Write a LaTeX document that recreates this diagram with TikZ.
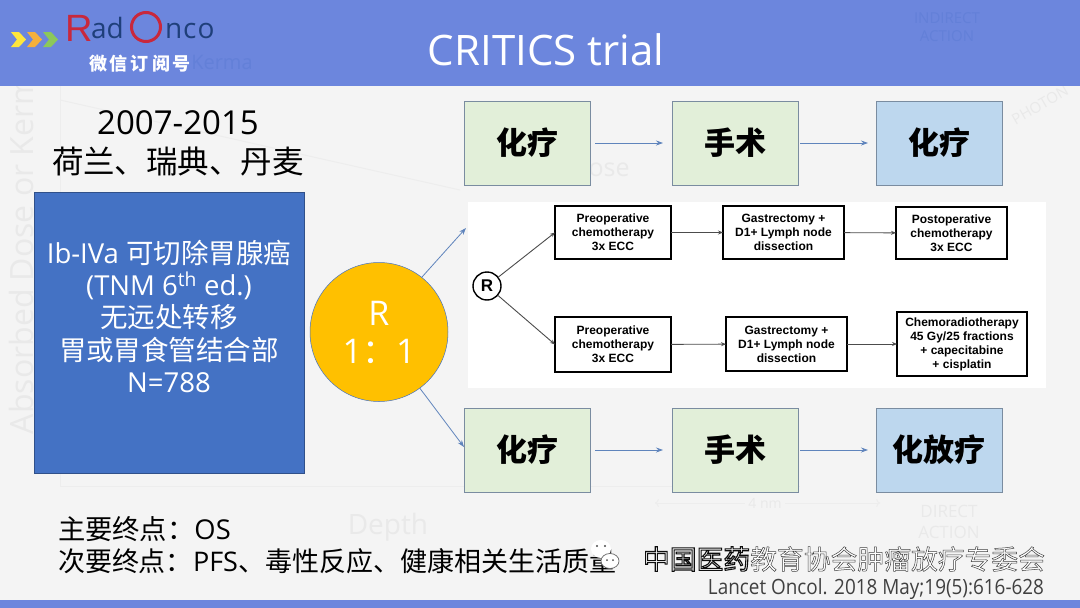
\documentclass[tikz,border=0pt]{standalone}
\usepackage{fontspec}
\setmainfont{Open Sans}
\newfontfamily\cj{Noto Sans CJK SC}
\newfontfamily\arl{Liberation Sans}
\usetikzlibrary{arrows.meta,shapes.geometric}
\newcommand{\fz}[1]{\fontsize{#1}{#1}\selectfont}
\definecolor{hdr}{HTML}{6C86DD}
\definecolor{pagebg}{HTML}{F4F4F4}
\definecolor{ghost}{HTML}{E9E9E9}
\definecolor{ghostline}{HTML}{EDEDED}
\definecolor{ghosthdr}{HTML}{6380D8}
\definecolor{mainblue}{HTML}{4472C4}
\definecolor{grn}{HTML}{E2EFD9}
\definecolor{lblue}{HTML}{BDD7EE}
\definecolor{edgeb}{HTML}{7A8CA0}
\definecolor{arrowb}{HTML}{5F84BC}
\definecolor{navy}{HTML}{1F3F7A}
\definecolor{logored}{HTML}{C8283C}
\definecolor{ampel}{HTML}{FFC000}
\tikzset{
 every node/.style={inner sep=0pt,outer sep=0pt},
 stepgreen/.style={draw=edgeb,line width=1pt,fill=grn,minimum width=126pt,minimum height=84pt,font=\cj\bfseries\fz{31}},
 stepblue/.style={stepgreen,fill=lblue},
 flowbox/.style={draw=black,line width=1.4pt,fill=white,align=center,font=\arl\bfseries\fontsize{12}{14}\selectfont},
 slide arrow/.style={draw=arrowb,line width=.8pt,-{Stealth[length=7pt,width=5pt]}},
 panel arrow/.style={draw=black!70,line width=.9pt,-{Stealth[length=5pt,width=4pt]}},
 ghosttext/.style={text=ghost},
}
\begin{document}
\begin{tikzpicture}[x=1pt,y=-1pt]
\useasboundingbox (0,0) rectangle (1080,608);
\fill[pagebg] (0,0) rectangle (1080,608);
% faint background picture
\draw[ghostline,line width=1pt] (60,86) -- (60,486) -- (800,486);
\draw[ghostline,line width=1pt] (60,100) -- (460,190);
\draw[ghostline,line width=1pt,<->] (655,503) -- (880,503);
\node[ghosttext,rotate=90,font=\fz{32}] (gy) at (22,246) {Absorbed Dose or Kerma};
\node[ghosttext,font=\fz{28}] (gd) at (388,527) {Depth};
\node[ghosttext,font=\fz{25}] (gdose) at (600,168) {Dose};
\node[ghosttext,font=\fz{17},align=center] (gact) at (949,522) {DIRECT\\[4pt]ACTION};
\node[ghosttext,font=\fz{14},fill=pagebg,inner xsep=3pt] (gnm) at (765,503) {4 nm};
\node[ghosttext,rotate=30,font=\fz{15}] (gph) at (1040,105) {PHOTON};
% bars
\fill[hdr] (0,0) rectangle (1080,86);
\fill[hdr] (0,600) rectangle (1080,608);
\node[text=ghosthdr,font=\fz{15},align=center] (gind) at (947,27) {INDIRECT\\[3pt]ACTION};
\node[text=ghosthdr,font=\fz{20}] (gk) at (222,62) {Kerma};
\node[text=white,font=\fz{42}] (title) at (546,50) {CRITICS trial};
% logo
\foreach \xx/\cc in {11/FFE63C,27/F4B03C,43/8CC85A}{
 \definecolor{cc}{HTML}{\cc}
 \fill[cc] (\xx,32) -- (\xx+8,32) -- (\xx+15,39.5) -- (\xx+8,47) -- (\xx,47) -- (\xx+6,39.5) -- cycle;
}
\node[text=logored,font=\arl\fz{38},anchor=base west] (logoR) at (65,41) {R};
\node[text=navy,font=\fz{28},anchor=base west] (logoa) at (91,38) {ad};
\draw[logored,line width=3pt] (146,27) ellipse (14.5pt and 14.5pt);
\node[text=navy,font=\fz{28},anchor=base west] (logon) at (165,38) {n\hspace{1pt}c\hspace{1pt}o};
\node[text=white,font=\cj\bfseries\fz{18}] (logow) at (140,64) {微\hspace{3pt}信\hspace{3pt}订\hspace{3pt}阅\hspace{3pt}号};
% left column
\node[font=\fz{33}] (years) at (178,123) {2007-2015};
\node[font=\cj\fz{31.5}] (where) at (178,162) {荷兰、瑞典、丹麦};
\node[draw=mainblue!70!black,line width=.6pt,fill=mainblue,minimum width=270pt,minimum height=281pt,text=white,align=center,font=\fontsize{27.5}{32.4}\selectfont] (inc) at (169,332.5)
 {Ib-IVa {\cj 可切除胃腺癌}\\(TNM 6\textsuperscript{th} ed.)\\{\cj 无远处转移}\\{\cj 胃或胃食管结合部}\\N=788\\\mbox{}};
\node[ellipse,minimum width=138pt,minimum height=139pt,fill=ampel,draw=mainblue,line width=.5pt,text=white,align=center,font=\fontsize{34}{38}\selectfont] (rand) at (379,332) {R\\1{\cj：}1};
% top row
\node[stepgreen] (a1) at (527,143) {化疗};
\node[stepgreen] (a2) at (735,143) {手术};
\node[stepblue]  (a3) at (939,143) {化疗};
\draw[slide arrow,shorten <=5pt,shorten >=9pt] (a1) -- (a2);
\draw[slide arrow,shorten <=2pt,shorten >=8pt] (a2) -- (a3);
% bottom row
\node[stepgreen] (b1) at (527,450) {化疗};
\node[stepgreen] (b2) at (735,450) {手术};
\node[stepblue]  (b3) at (939,450) {化放疗};
\draw[slide arrow,shorten <=5pt,shorten >=9pt] (b1) -- (b2);
\draw[slide arrow,shorten <=2pt,shorten >=8pt] (b2) -- (b3);
% picture panel
\node[fill=white,minimum width=578pt,minimum height=186pt] (panel) at (757,295) {};
\coordinate (up) at (466,228);
\coordinate (down) at (464,447);
\draw[slide arrow] (rand.52) -- (up);
\draw[slide arrow] (rand.-54) -- (down);
\node[circle,draw=black,line width=1.4pt,fill=white,minimum size=28pt,font=\arl\bfseries\fz{17}] (R) at (487,286) {R};
\node[flowbox,minimum width=116pt,minimum height=53pt] (p1) at (613,232.5) {Preoperative\\chemotherapy\\3x ECC};
\node[flowbox,minimum width=121pt,minimum height=53pt] (p2) at (783.5,232.5) {Gastrectomy +\\D1+ Lymph node\\dissection};
\node[flowbox,minimum width=111pt,minimum height=52pt] (p3) at (951.5,233) {Postoperative\\chemotherapy\\3x ECC};
\node[flowbox,minimum width=116pt,minimum height=55pt] (q1) at (613,344.5) {Preoperative\\chemotherapy\\3x ECC};
\node[flowbox,minimum width=121pt,minimum height=54pt] (q2) at (786.5,344) {Gastrectomy +\\D1+ Lymph node\\dissection};
\node[flowbox,minimum width=130pt,minimum height=64pt] (q3) at (962,344) {Chemoradiotherapy\\45 Gy/25 fractions\\+ capecitabine\\+ cisplatin};
\draw[panel arrow] (R) -- (p1.west);
\draw[panel arrow] (R) -- (q1.west);
\draw[panel arrow] (p1) -- (p2);
\draw[panel arrow] (p2) -- (p3);
\draw[panel arrow] (q1) -- (q2);
\draw[panel arrow] (q2) -- (q3);
% endpoints
\node[anchor=west,font=\fz{27.3}] (ep1) at (58,529) {{\cj 主要终点：}OS};
\node[anchor=west,font=\fz{27}] (ep2) at (58,561) {{\cj 次要终点：}PFS{\cj 、毒性反应、健康相关生活质量}};
% watermark
\fill[white] (601,549) ellipse (10pt and 9pt);
\fill[white] (610,561) ellipse (9pt and 7.5pt);
\draw[black!60,line width=.7pt] (610,561) ellipse (9pt and 7.5pt);
\fill[black!70] (597,546) circle (1.2pt) (605,546) circle (1.2pt) (607,560) circle (1pt) (613,560) circle (1pt);
\node[anchor=east,font=\cj\fz{26.8}] (wm) at (1045,559) {\special{pdf:code q 2 Tr 1.1 w 0.05 0.05 0.05 RG 1 1 1 rg}中国医药\special{pdf:code Q}\special{pdf:code q 2 Tr 0.5 w 0.25 0.25 0.25 RG 1 1 1 rg}教育协会肿瘤放疗专委会\special{pdf:code Q}};
\node[anchor=east,text=black!75,font=\fz{21}] (ref) at (1044,589) {\scalebox{.9}[1]{Lancet Oncol. 2018 May;19(5):616-628}};
\end{tikzpicture}
\end{document}
